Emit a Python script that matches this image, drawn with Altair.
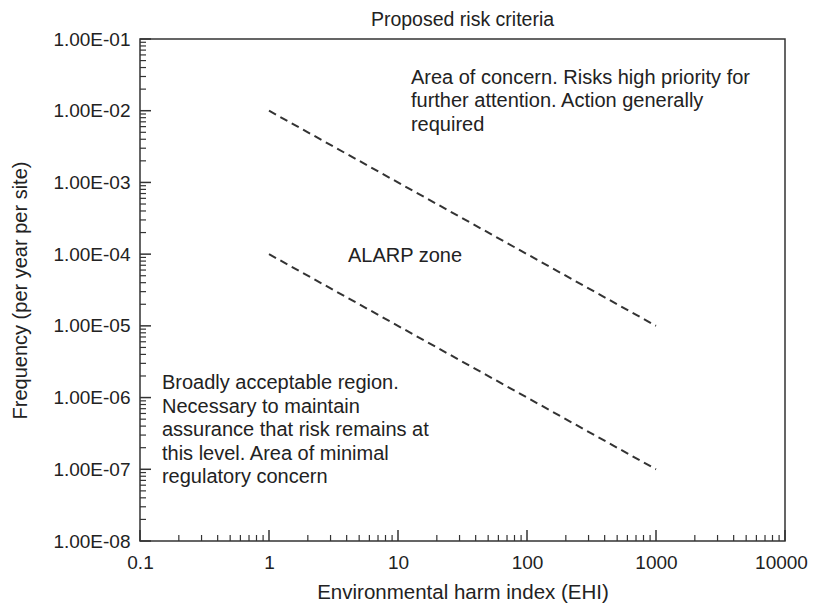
import altair as alt
import pandas as pd

# ---- data ----
x_major = [0.1, 1, 10, 100, 1000, 10000]
y_major = [1e-8, 1e-7, 1e-6, 1e-5, 1e-4, 1e-3, 1e-2, 1e-1]
minor_mult = [2, 3, 4, 5, 6, 7, 8, 9]
x_decades = [0.1, 1, 10, 100, 1000]
y_decades = [1e-8, 1e-7, 1e-6, 1e-5, 1e-4, 1e-3, 1e-2]

line_x = [1, 1000]
upper_y = [1e-2, 1e-5]
lower_y = [1e-4, 1e-7]

concern_text = "Area of concern. Risks high priority for\nfurther attention. Action generally\nrequired"
alarp_text = "ALARP zone"
broad_text = ("Broadly acceptable region.\nNecessary to maintain\nassurance that risk remains at\n"
              "this level. Area of minimal\nregulatory concern")
ann_x = [12.6, 4.09, 0.148]
ann_y = [0.0236, 7.8e-5, 1.3e-6]
ann_text = [concern_text, alarp_text, broad_text]

x_minor = [d * m for d in x_decades for m in minor_mult]
y_minor = [d * m for d in y_decades for m in minor_mult]

W, H = 645, 502
INK = "#333333"
FONT = "Liberation Sans"

xs = alt.Scale(type="log", domain=[0.1, 10000], nice=False)
ys = alt.Scale(type="log", domain=[1e-8, 1e-1], nice=False)

lines_df = pd.DataFrame({
    "x": line_x + line_x,
    "y": upper_y + lower_y,
    "band": ["upper"] * 2 + ["lower"] * 2,
})

base_x = alt.X("x:Q", scale=xs, axis=alt.Axis(
    values=x_major, format="~g", ticks=False, domain=False, grid=False,
    labelFontSize=19, labelPadding=12, labelColor="#222", labelFont=FONT,
    labelOffset=alt.ConditionalAxisNumber(
        condition={"test": "datum.value >= 10000", "value": -4}, value=0),
    title="Environmental harm index (EHI)", titleFontSize=20.5, titleFont=FONT,
    titleFontWeight="normal", titleColor="#222", titleX=W / 2, titleY=57,
    titleBaseline="alphabetic", labelFlush=False))
base_y = alt.Y("y:Q", scale=ys, axis=alt.Axis(
    values=y_major, labelExpr="'1.00E-0' + round(-log(datum.value)/LN10)",
    ticks=False, domain=False, grid=False,
    labelFontSize=19, labelPadding=10, labelColor="#222", labelFont=FONT,
    title="Frequency (per year per site)", titleFontSize=20, titleFont=FONT,
    titleFontWeight="normal", titleColor="#222", titleX=-120, titleY=H / 2,
    titleAngle=-90, titleAlign="center", titleBaseline="middle", labelFlush=False))

lines = alt.Chart(lines_df).mark_line(
    color=INK, strokeWidth=2, strokeDash=[8, 5]
).encode(x=base_x, y=base_y, detail="band:N")

xmaj = alt.Chart(pd.DataFrame({"x": x_major})).mark_rule(color=INK, strokeWidth=1.5).encode(
    x=alt.X("x:Q", scale=xs), y=alt.value(H), y2=alt.value(H - 11))
xmin = alt.Chart(pd.DataFrame({"x": x_minor})).mark_rule(color=INK, strokeWidth=1.2).encode(
    x=alt.X("x:Q", scale=xs), y=alt.value(H), y2=alt.value(H - 6))
ymaj = alt.Chart(pd.DataFrame({"y": y_major})).mark_rule(color=INK, strokeWidth=1.5).encode(
    y=alt.Y("y:Q", scale=ys), x=alt.value(0), x2=alt.value(11))
ymin = alt.Chart(pd.DataFrame({"y": y_minor})).mark_rule(color=INK, strokeWidth=1.2).encode(
    y=alt.Y("y:Q", scale=ys), x=alt.value(0), x2=alt.value(6))

ann_df = pd.DataFrame({"x": ann_x, "y": ann_y, "t": ann_text})
ann = alt.Chart(ann_df).mark_text(
    align="left", baseline="alphabetic", fontSize=20, font=FONT, color="#222",
    lineBreak="\n", lineHeight=23.5
).encode(x=alt.X("x:Q", scale=xs), y=alt.Y("y:Q", scale=ys), text="t:N")

chart = alt.layer(lines, xmaj, xmin, ymaj, ymin, ann).properties(
    width=W, height=H,
    background="white",
    title=alt.TitleParams("Proposed risk criteria", fontSize=19.5, font=FONT,
                          fontWeight="normal", color="#222", offset=0, anchor="middle"),
    autosize=alt.AutoSizeParams(type="none"),
    padding={"left": 132, "top": 31, "right": 23, "bottom": 62},
).configure_view(stroke=INK, strokeWidth=1.5)

chart.save("out.html", embed_options={"renderer": "svg", "actions": False})
